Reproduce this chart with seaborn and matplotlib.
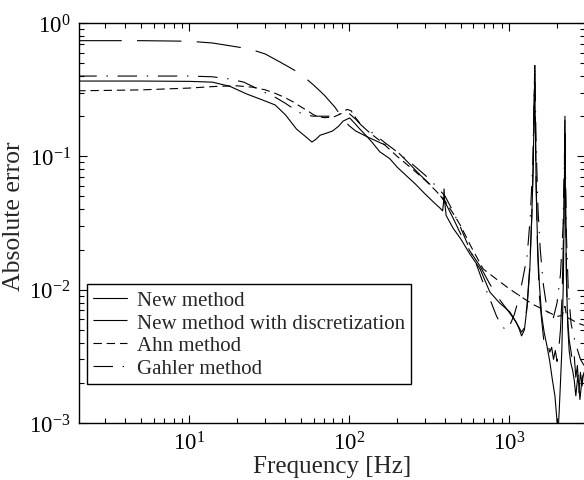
import matplotlib
matplotlib.use("Agg")
import matplotlib.pyplot as plt
import seaborn as sns
import numpy as np

# ------------------------
# Data
# ------------------------
new_f = [2, 5, 10, 14, 18, 23, 28, 34.5, 40, 47, 53, 58.7, 62, 66, 72, 79, 86, 92,
         101, 108, 117, 128, 139, 156, 180, 200, 230, 260, 300, 340, 370, 385, 390,
         393, 397, 405, 447, 500, 570, 660, 760, 870, 1014, 1100, 1150, 1200, 1250,
         1300, 1350, 1390, 1420, 1440, 1450, 1460, 1480, 1510, 1550, 1600, 1660, 1728,
         1800, 1870, 1939, 1990, 2024, 2060, 2100, 2142, 2190, 2220, 2240, 2260, 2290,
         2330, 2380, 2440, 2500, 2560, 2620, 2700, 2780, 2860, 2950]
new_err = [0.367, 0.367, 0.365, 0.36, 0.335, 0.293, 0.268, 0.243, 0.205, 0.16, 0.142,
           0.128, 0.134, 0.144, 0.149, 0.155, 0.168, 0.184, 0.194, 0.178, 0.16, 0.143,
           0.128, 0.108, 0.096, 0.083, 0.071, 0.062, 0.052, 0.045, 0.041, 0.039, 0.045,
           0.057, 0.045, 0.036, 0.029, 0.024, 0.0185, 0.0143, 0.0096, 0.0080, 0.0068,
           0.0058, 0.0052, 0.0045, 0.0050, 0.0075, 0.014, 0.035, 0.09, 0.25, 0.42, 0.2,
           0.06, 0.022, 0.011, 0.0065, 0.0048, 0.0038, 0.0029, 0.0021, 0.0016, 0.0011,
           0.0008, 0.0012, 0.002, 0.0035, 0.012, 0.05, 0.2, 0.04, 0.012, 0.0055, 0.0035,
           0.0028, 0.0025, 0.0021, 0.0016, 0.0023, 0.0015, 0.0021, 0.0024]

disc_f = [2, 5, 10, 14, 18, 24, 30, 37, 46, 50, 55, 60, 70, 81.6, 92, 100, 110, 130,
          160, 194, 230, 280, 355, 400, 450, 500, 570, 660, 760, 870, 1000, 1100, 1200,
          1250, 1300, 1350, 1390, 1420, 1440, 1450, 1460, 1480, 1510, 1550, 1600, 1650,
          1700, 1750, 1800, 1850, 1900, 1950, 2000, 2050, 2100, 2150, 2200, 2240, 2260,
          2290, 2330, 2380, 2440, 2500, 2560, 2620, 2680, 2740, 2800, 2870, 2950]
disc_err = [0.737, 0.737, 0.73, 0.708, 0.675, 0.638, 0.585, 0.51, 0.44, 0.407, 0.375,
            0.343, 0.288, 0.234, 0.19, 0.17, 0.155, 0.14, 0.125, 0.113, 0.092, 0.072,
            0.055, 0.045, 0.034, 0.026, 0.0195, 0.015, 0.011, 0.0085, 0.0068, 0.0058,
            0.0048, 0.0052, 0.0078, 0.015, 0.036, 0.09, 0.3, 0.48, 0.22, 0.06, 0.02,
            0.009, 0.006, 0.0042, 0.0037, 0.0039, 0.0034, 0.0037, 0.003, 0.0035, 0.0029,
            0.0036, 0.005, 0.009, 0.03, 0.19, 0.05, 0.012, 0.006, 0.0042, 0.0035, 0.0028,
            0.0032, 0.0022, 0.0027, 0.0017, 0.0024, 0.0019, 0.0028]

ahn_f = [2, 5, 10, 15, 20, 25, 30, 35, 40, 45, 50, 55, 60, 65, 70, 80, 90, 97, 103,
         110, 120, 135, 160, 200, 250, 300, 350, 400, 450, 500, 580, 690, 820, 1000,
         1200, 1400, 1600, 1800, 2000, 2150, 2240, 2300, 2500, 2700, 2950]
ahn_err = [0.31, 0.315, 0.325, 0.335, 0.338, 0.33, 0.315, 0.295, 0.275, 0.255, 0.235,
           0.22, 0.205, 0.198, 0.195, 0.197, 0.21, 0.225, 0.22, 0.195, 0.17, 0.15, 0.128,
           0.1, 0.08, 0.066, 0.055, 0.046, 0.037, 0.03, 0.021, 0.0143, 0.0122, 0.0102,
           0.0088, 0.0078, 0.0072, 0.0067, 0.0063, 0.0064, 0.0075, 0.0062, 0.0059,
           0.0056, 0.0054]

gahler_f = [2, 5, 10, 14, 18, 22, 27, 30, 35, 40, 47, 52, 60, 75, 85, 95, 100, 110,
            120, 140, 170, 200, 250, 300, 350, 400, 450, 500, 560, 620, 676, 760, 838,
            900, 950, 1000, 1080, 1150, 1220, 1300, 1360, 1410, 1440, 1450, 1480, 1520,
            1570, 1640, 1720, 1800, 1900, 2000, 2100, 2180, 2240, 2290, 2350, 2450,
            2600, 2800, 2950]
gahler_err = [0.40, 0.40, 0.40, 0.395, 0.38, 0.36, 0.32, 0.30, 0.275, 0.25, 0.22, 0.205,
              0.2, 0.2, 0.205, 0.215, 0.21, 0.19, 0.17, 0.15, 0.125, 0.108, 0.087,
              0.072, 0.06, 0.05, 0.038, 0.029, 0.021, 0.016, 0.012, 0.0085, 0.0063,
              0.0054, 0.005, 0.0052, 0.0065, 0.0085, 0.012, 0.018, 0.035, 0.09, 0.3,
              0.5, 0.12, 0.04, 0.02, 0.011, 0.0075, 0.006, 0.0062, 0.008, 0.013, 0.03,
              0.15, 0.025, 0.01, 0.0055, 0.004, 0.003, 0.0027]

labels = ["New method", "New method with discretization", "Ahn method", "Gahler method"]

# ------------------------
# Style
# ------------------------
sns.set_theme(style="ticks")
plt.rcParams["font.family"] = ["Liberation Serif", "DejaVu Serif"]
plt.rcParams["mathtext.fontset"] = "custom"
plt.rcParams["mathtext.rm"] = "Liberation Serif"
plt.rcParams["mathtext.it"] = "Liberation Serif:italic"
plt.rcParams["mathtext.default"] = "regular"
plt.rcParams["lines.scale_dashes"] = False

fig = plt.figure(figsize=(5.84, 4.81), dpi=100)
ax = fig.add_axes([79 / 584, 57 / 481, 506 / 584, 400 / 481])

lw = 0.8
series = [
    (new_f, new_err, "-"),
    (disc_f, disc_err, (0, (32, 11))),
    (ahn_f, ahn_err, (0, (6, 3.5))),
    (gahler_f, gahler_err, (0, (14, 7, 1.0, 7))),
]
for (f, e, ls), lab in zip(series, labels):
    sns.lineplot(x=f, y=e, ax=ax, color="black", linewidth=lw, linestyle=ls,
                 label=lab, sort=False, estimator=None)

ax.set_xscale("log")
ax.set_yscale("log")
ax.set_xlim(2.05, 2990)
ax.set_ylim(1e-3, 1)

ax.tick_params(which="both", direction="in", top=True, right=True, colors="black",
               labelsize=16.5, width=0.8)
ax.tick_params(which="major", length=6, pad=6)
ax.tick_params(which="minor", length=3.5)
for sp in ax.spines.values():
    sp.set_linewidth(1.0)
    sp.set_color("black")

ax.set_xlabel("Frequency [Hz]", fontsize=18)
ax.set_ylabel("Absolute error", fontsize=18.5)
ax.xaxis.set_label_coords(0.5, -0.08)
ax.yaxis.set_label_coords(-0.106, 0.52)

leg = ax.legend(loc="upper left", bbox_to_anchor=(0.016, 0.3475), borderaxespad=0,
                fontsize=15, frameon=True, fancybox=False, edgecolor="black",
                framealpha=1, handlelength=1.6, handletextpad=0.5, labelspacing=0.15,
                borderpad=0.3)
leg.get_frame().set_linewidth(1.0)

fig.savefig("out.png", dpi=100)
